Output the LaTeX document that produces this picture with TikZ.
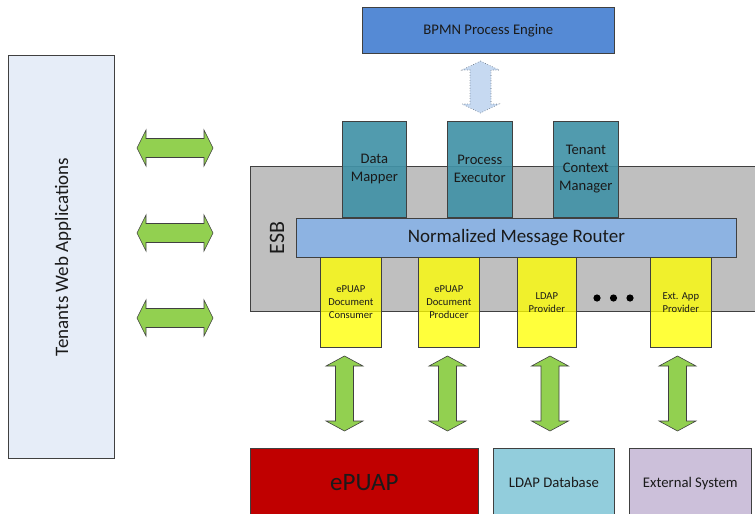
\documentclass[tikz,border=0pt]{standalone}
\usepackage{fontspec}
\setmainfont{Carlito}
\definecolor{tenantfill}{HTML}{E6EDF8}
\definecolor{bpmnfill}{HTML}{558AD5}
\definecolor{tealfill}{HTML}{4292A7}
\definecolor{esbfill}{HTML}{BFBFBF}
\definecolor{nmrfill}{HTML}{8DB3E2}
\definecolor{yellowfill}{HTML}{FFFF00}
\definecolor{greenfill}{HTML}{92D050}
\definecolor{dotfill}{HTML}{C6D9F1}
\definecolor{epuapfill}{HTML}{C00000}
\definecolor{ldapfill}{HTML}{92CDDC}
\definecolor{extfill}{HTML}{CCC0DA}
\definecolor{edge}{HTML}{404040}
\definecolor{txt}{HTML}{1A1A1A}
\newcommand{\HArrow}[4]{%
  \draw[#4] (#1,#3) -- ({#1+9},{#3-18}) -- ({#1+9},{#3-9.5}) -- ({#2-9},{#3-9.5}) -- ({#2-9},{#3-18}) -- (#2,#3)
   -- ({#2-9},{#3+18}) -- ({#2-9},{#3+9.5}) -- ({#1+9},{#3+9.5}) -- ({#1+9},{#3+18}) -- cycle;}
\newcommand{\VArrow}[7]{% x, ytop, ybot, headhalf, shafthalf, headlen, style
  \draw[#7] (#1,#2) -- ({#1+#4},{#2+#6}) -- ({#1+#5},{#2+#6}) -- ({#1+#5},{#3-#6}) -- ({#1+#4},{#3-#6}) -- (#1,#3)
   -- ({#1-#4},{#3-#6}) -- ({#1-#5},{#3-#6}) -- ({#1-#5},{#2+#6}) -- ({#1-#4},{#2+#6}) -- cycle;}
\tikzset{
  box/.style={draw=edge, line width=0.7pt, anchor=north west, inner sep=0pt, align=center, text=txt},
  garrow/.style={draw=edge, line width=0.6pt, fill=greenfill},
  darrow/.style={draw=edge!70!nmrfill, line width=0.6pt, dotted, fill=dotfill},
  fs/.style 2 args={font=\fontsize{#1}{#2}\selectfont},
}
\begin{document}
\begin{tikzpicture}[x=1pt, y=-1pt]
\useasboundingbox (0,0) rectangle (755,514);
% left tenant box
\node[box, fill=tenantfill, minimum width=106pt, minimum height=403pt] (tenants) at (8,55) {};
\node[rotate=90, text=txt, fs={19}{23}] (tenantstxt) at (63,257) {Tenants Web Applications};
% horizontal arrows
\HArrow{137}{213}{148}{garrow}
\HArrow{137}{213}{233}{garrow}
\HArrow{137}{213}{318}{garrow}
% ESB
\node[box, fill=esbfill, minimum width=520pt, minimum height=145pt] (esb) at (250,166) {};
\node[rotate=90, text=txt, fs={22}{26}] (esbtxt) at (277,238) {ESB};
% BPMN
\node[box, fill=bpmnfill, minimum width=252pt, minimum height=46pt, fs={14.7}{18}] (bpmn) at (362,7) {BPMN Process Engine};
\VArrow{480.5}{61}{113}{18.5}{10.5}{9}{darrow}
% teal boxes
\tikzset{teal/.style={box, fill=tealfill, fill opacity=0.92, text opacity=1, minimum height=96pt, fs={14.6}{18}}}
\node[teal, minimum width=64pt] (mapper) at (342,121) {Data\\Mapper};
\node[teal, minimum width=65pt] (executor) at (447,121) {Process\\Executor};
\node[teal, minimum width=65pt] (context) at (553,121) {Tenant\\Context\\Manager};
% NMR
\node[box, fill=nmrfill, minimum width=440pt, minimum height=39pt, fs={19}{23}] (nmr) at (296,218) {Normalized Message Router};
% yellow boxes
\tikzset{ybox/.style={box, fill=yellowfill, fill opacity=0.77, text opacity=1, minimum height=90pt, fs={10.6}{13}}}
\node[ybox, minimum width=61pt] (consumer) at (320,257) {ePUAP\\Document\\Consumer};
\node[ybox, minimum width=61pt] (producer) at (418,257) {ePUAP\\Document\\Producer};
\node[ybox, minimum width=59pt] (ldapprov) at (517,257) {LDAP\\Provider};
\node[ybox, minimum width=61pt] (extprov) at (650,257) {Ext. App\\Provider};
% dots
\fill[black] (597,298) circle (3.6) (613.5,298) circle (3.6) (630,298) circle (3.6);
% vertical arrows
\VArrow{344.5}{356}{431}{18.5}{9}{10}{garrow}
\VArrow{447.5}{356}{431}{18.5}{9}{10}{garrow}
\VArrow{550}{356}{431}{18.5}{9}{10}{garrow}
\VArrow{677.5}{356}{431}{18.5}{9}{10}{garrow}
% bottom boxes
\node[box, fill=epuapfill, minimum width=228pt, minimum height=72pt, fs={25}{30}] (epuap) at (250,448) {\raisebox{4pt}{ePUAP}};
\node[box, fill=ldapfill, minimum width=121pt, minimum height=72pt, fs={14.7}{18}] (ldapdb) at (493,448) {\raisebox{4pt}{LDAP Database}};
\node[box, fill=extfill, minimum width=122pt, minimum height=72pt, fs={14.7}{18}] (extsys) at (629,448) {\raisebox{4pt}{External System}};
\end{tikzpicture}
\end{document}
